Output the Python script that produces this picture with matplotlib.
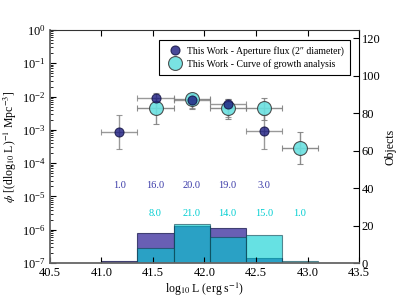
import numpy as np
import matplotlib
matplotlib.use("Agg")
import matplotlib.pyplot as plt
from matplotlib.lines import Line2D

plt.rcParams['font.family'] = ['Liberation Serif', 'DejaVu Serif']
plt.rcParams['mathtext.fontset'] = 'stix'

# --- data ---
bin_edges = [41.0, 41.35, 41.7, 42.05, 42.4, 42.75, 43.1]
ap_counts = [1, 16, 20, 19, 3, 0]
cog_counts = [0, 8, 21, 14, 15, 1]

ap_x = [41.175, 41.525, 41.875, 42.225, 42.575]
ap_phi = [8.9e-4, 9.0e-3, 8.0e-3, 6.0e-3, 9.0e-4]
ap_lo = [2.7e-4, 4.5e-3, 4.5e-3, 2.5e-3, 2.7e-4]
ap_hi = [2.8e-3, 1.3e-2, 1.2e-2, 8.5e-3, 2.8e-3]

cog_x = [41.525, 41.875, 42.225, 42.575, 42.925]
cog_phi = [4.6e-3, 8.2e-3, 4.5e-3, 4.5e-3, 2.9e-4]
cog_lo = [1.5e-3, 4.2e-3, 2.1e-3, 2.0e-3, 9.3e-5]
cog_hi = [9.0e-3, 1.2e-2, 8.5e-3, 9.0e-3, 8.9e-4]

ap_label = "This Work - Aperture flux (2\u2033 diameter)"
cog_label = "This Work - Curve of growth analysis"

blue_hist = '#372a9b'
cyan = '#00ced1'
blue_mark = '#1c1c80'
blue_text = '#3a3aa8'

fig = plt.figure(figsize=(3.99, 2.99), dpi=100)
ax = fig.add_axes([0.125, 0.12, 0.775, 0.78])
ax2 = ax.twinx()
ax.set_zorder(ax2.get_zorder() + 1)
ax.patch.set_visible(False)

# histograms on right axis
edges = np.array(bin_edges)
widths = np.diff(edges)
ax2.bar(edges[:-1], ap_counts, width=widths, align='edge', color=blue_hist,
        alpha=0.75, edgecolor='#1a1a50', linewidth=0.8)
ax2.bar(edges[:-1], cog_counts, width=widths, align='edge', color=cyan,
        alpha=0.6, edgecolor='#104050', linewidth=0.8)
centers = (edges[:-1] + edges[1:]) / 2
for c, n in zip(centers, ap_counts):
    if n > 0:
        ax2.text(c, 40, f"{float(n):.1f}", color=blue_text, ha='center',
                 va='baseline', fontsize=7.5)
for c, n in zip(centers, cog_counts):
    if n > 0:
        ax2.text(c, 25, f"{float(n):.1f}", color=cyan, ha='center',
                 va='baseline', fontsize=7.5)
ax2.set_ylim(0, 124.5)
ax2.set_yticks([0, 20, 40, 60, 80, 100, 120])
ax2.set_ylabel('Objects', fontsize=8.5, labelpad=3)
ax2.tick_params(axis='y', direction='in', labelsize=9, length=4, pad=2)
for s in ['left', 'top', 'bottom']:
    ax2.spines[s].set_visible(False)

# points
cx = np.array(cog_x); cy = np.array(cog_phi)
ax.errorbar(cx, cy, xerr=0.175,
            yerr=[cy - np.array(cog_lo), np.array(cog_hi) - cy],
            fmt='o', color=cyan, markersize=10, markerfacecolor='#6ae0e0',
            markeredgecolor='#404040', markeredgewidth=0.8, ecolor='gray',
            elinewidth=1, capsize=2, alpha=0.9)
bx = np.array(ap_x); by = np.array(ap_phi)
ax.errorbar(bx, by, xerr=0.175,
            yerr=[by - np.array(ap_lo), np.array(ap_hi) - by],
            fmt='o', color=blue_mark, markersize=6.5, markerfacecolor=blue_mark,
            markeredgecolor='#101040', markeredgewidth=0.8, ecolor='gray',
            elinewidth=1, capsize=2, alpha=0.8)

ax.set_yscale('log')
ax.set_ylim(1e-7, 1e0)
ax.set_xlim(40.5, 43.5)
ax.set_xticks([40.5, 41.0, 41.5, 42.0, 42.5, 43.0, 43.5])
ax.set_xticklabels(['40.5', '41.0', '41.5', '42.0', '42.5', '43.0', '43.5'])
ax.tick_params(axis='both', which='both', direction='in', labelsize=9)
ax.tick_params(axis='x', top=True, length=4, pad=3)
ax.tick_params(axis='y', which='major', length=4, pad=3)
ax.tick_params(axis='y', which='minor', length=2)
ax.set_xlabel('log$_{10}$ L (erg s$^{-1}$)', fontsize=8.5, labelpad=1)
ax.set_ylabel('$\\phi$ [(dlog$_{10}$ L)$^{-1}$ Mpc$^{-3}$]', fontsize=8.5, labelpad=2)
for s in ['left', 'bottom']:
    ax.spines[s].set_color('#666666')
    ax.spines[s].set_linewidth(1.3)
ax.spines['top'].set_color('#333333')
ax.spines['right'].set_visible(False)
ax2.spines['right'].set_color('black')

h_ap = Line2D([], [], linestyle='none', marker='o', markersize=6.5,
              markerfacecolor=blue_mark, markeredgecolor='#101040',
              markeredgewidth=0.8, alpha=0.8)
h_cog = Line2D([], [], linestyle='none', marker='o', markersize=10,
               markerfacecolor='#6ae0e0', markeredgecolor='#404040',
               markeredgewidth=0.8, alpha=0.9)
leg = ax.legend([h_ap, h_cog], [ap_label, cog_label], loc='upper right',
                bbox_to_anchor=(0.971, 0.957), borderaxespad=0, fontsize=7,
                numpoints=1, fancybox=False, framealpha=1, edgecolor='black',
                borderpad=0.6, handletextpad=0.3, labelspacing=0.35)
leg.get_frame().set_linewidth(0.8)

fig.savefig('out.png', dpi=100)
